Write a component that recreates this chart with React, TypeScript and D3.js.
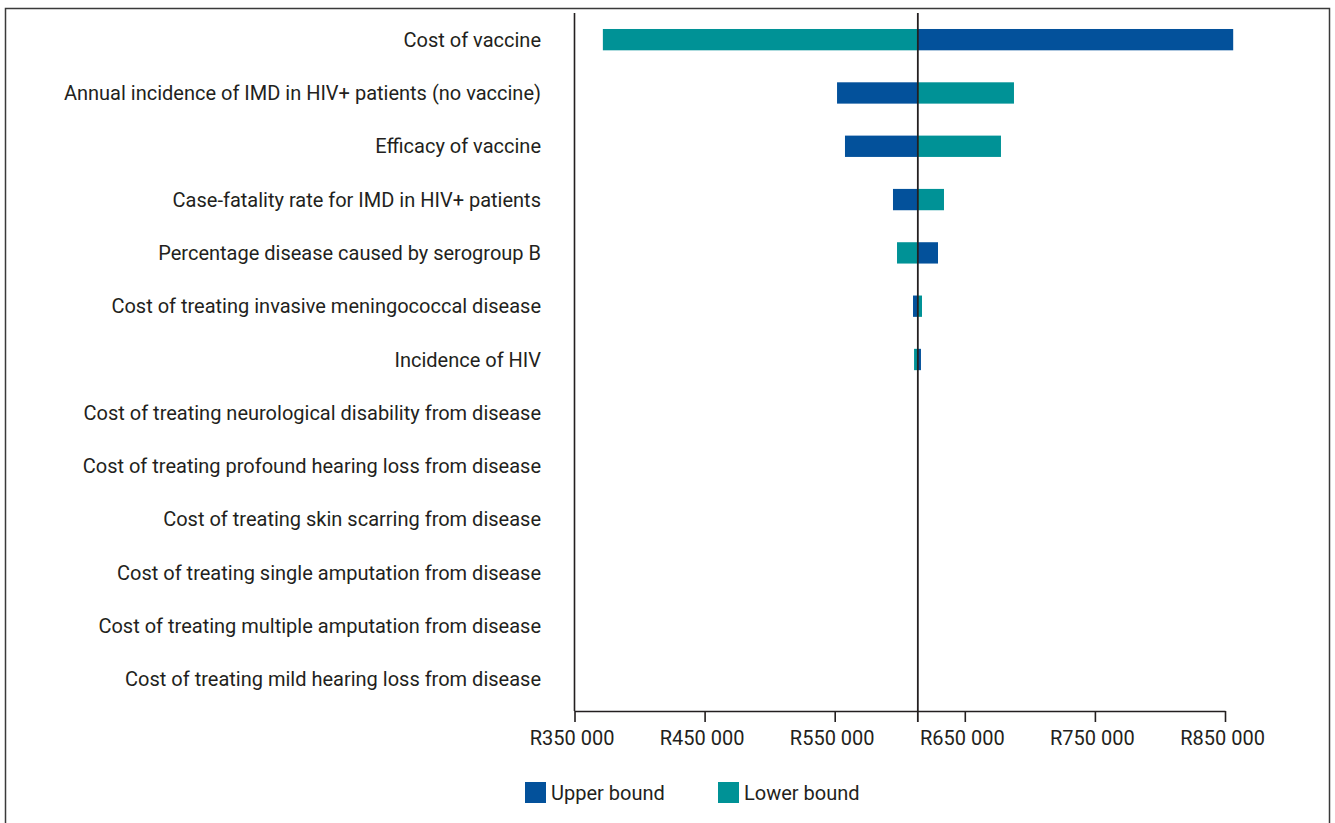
import * as d3 from 'd3'
import { useEffect, useRef } from 'react'

// parameters, top to bottom
const CATEGORIES = [
  'Cost of vaccine',
  'Annual incidence of IMD in HIV+ patients (no vaccine)',
  'Efficacy of vaccine',
  'Case-fatality rate for IMD in HIV+ patients',
  'Percentage disease caused by serogroup B',
  'Cost of treating invasive meningococcal disease',
  'Incidence of HIV',
  'Cost of treating neurological disability from disease',
  'Cost of treating profound hearing loss from disease',
  'Cost of treating skin scarring from disease',
  'Cost of treating single amputation from disease',
  'Cost of treating multiple amputation from disease',
  'Cost of treating mild hearing loss from disease',
]

const BASE = 613900

// ICER at the upper / lower bound of each parameter (R)
const UPPER = [856300, 551800, 557900, 594800, 629400, 610200, 616300, 613900, 613900, 613900, 613900, 613900, 613900]
const LOWER = [371800, 687800, 677800, 634000, 597900, 617100, 611000, 613900, 613900, 613900, 613900, 613900, 613900]

const TICKS = [350000, 450000, 550000, 650000, 750000, 850000]

const SERIES = [
  { key: 'Upper bound', values: UPPER, color: '#03519b' },
  { key: 'Lower bound', values: LOWER, color: '#009296' },
]

export default function App() {
  const ref = useRef<HTMLDivElement>(null)

  useEffect(() => {
    const width = 1335
    const height = 823
    const left = 574.5
    const right = 1225
    const top = 13
    const bottom = 711
    const font = 'Roboto, sans-serif'
    const fontSize = 20
    const ink = '#231f20'

    const x = d3.scaleLinear().domain([350000, 850000]).range([left, right])
    const y = d3
      .scaleBand()
      .domain(CATEGORIES)
      .range([top, 706])
      .paddingInner(0.6)
      .paddingOuter(0.3)

    const svg = d3
      .create('svg')
      .attr('width', width)
      .attr('height', height)
      .attr('viewBox', [0, 0, width, height])
      .style('font-family', font)

    svg
      .append('rect')
      .attr('x', 5.5)
      .attr('y', 8.5)
      .attr('width', 1324)
      .attr('height', 830)
      .attr('fill', 'none')
      .attr('stroke', '#3a3a3a')
      .attr('stroke-width', 1.5)

    /* bars */
    SERIES.forEach((s) => {
      svg
        .append('g')
        .attr('fill', s.color)
        .selectAll()
        .data(CATEGORIES)
        .join('rect')
        .attr('x', (_, i) => Math.min(x(BASE), x(s.values[i])))
        .attr('y', (d) => y(d) as number)
        .attr('width', (_, i) => Math.abs(x(s.values[i]) - x(BASE)))
        .attr('height', y.bandwidth())
    })

    /* category labels */
    svg
      .append('g')
      .attr('fill', ink)
      .attr('font-size', fontSize)
      .attr('text-anchor', 'end')
      .selectAll()
      .data(CATEGORIES)
      .join('text')
      .attr('x', 541)
      .attr('y', (d) => (y(d) as number) + y.bandwidth() / 2)
      .attr('dy', '0.35em')
      .text((d) => d)

    /* x axis */
    const fmt = (v: d3.NumberValue) => 'R' + d3.format(',')(v as number).replace(/,/g, ' ')
    svg
      .append('g')
      .attr('transform', `translate(0, ${bottom})`)
      .call(d3.axisBottom(x).tickValues(TICKS).tickSize(11).tickSizeOuter(0).tickFormat(fmt))
      .call((g) => g.select('.domain').attr('stroke', ink).attr('stroke-width', 1.6))
      .call((g) => g.selectAll('.tick line').attr('stroke', ink).attr('stroke-width', 1.6))
      .call((g) =>
        g
          .selectAll('.tick text')
          .attr('fill', ink)
          .attr('font-family', font)
          .attr('font-size', fontSize)
          .attr('dy', 0)
          .attr('dx', -3)
          .attr('y', 34),
      )

    /* y axis line */
    svg
      .append('line')
      .attr('x1', left)
      .attr('x2', left)
      .attr('y1', top)
      .attr('y2', bottom)
      .attr('stroke', ink)
      .attr('stroke-width', 1.6)

    /* base case line */
    svg
      .append('line')
      .attr('x1', x(BASE))
      .attr('x2', x(BASE))
      .attr('y1', top)
      .attr('y2', bottom + 11)
      .attr('stroke', ink)
      .attr('stroke-width', 1.8)

    /* legend */
    const legend = svg
      .append('g')
      .selectAll()
      .data(SERIES)
      .join('g')
      .attr('transform', (_, i) => `translate(${525 + i * 193}, 782)`)
    legend.append('rect').attr('width', 21).attr('height', 21).attr('fill', (d) => d.color)
    legend
      .append('text')
      .attr('x', 26)
      .attr('y', 10.5)
      .attr('dy', '0.35em')
      .attr('fill', ink)
      .attr('font-size', fontSize)
      .text((d) => d.key)

    const node = svg.node()
    if (ref.current && node) {
      ref.current.innerHTML = ''
      ref.current.appendChild(node)
    }
  }, [])

  return <div ref={ref} style={{ position: 'absolute', left: 0, top: 0 }} />
}
